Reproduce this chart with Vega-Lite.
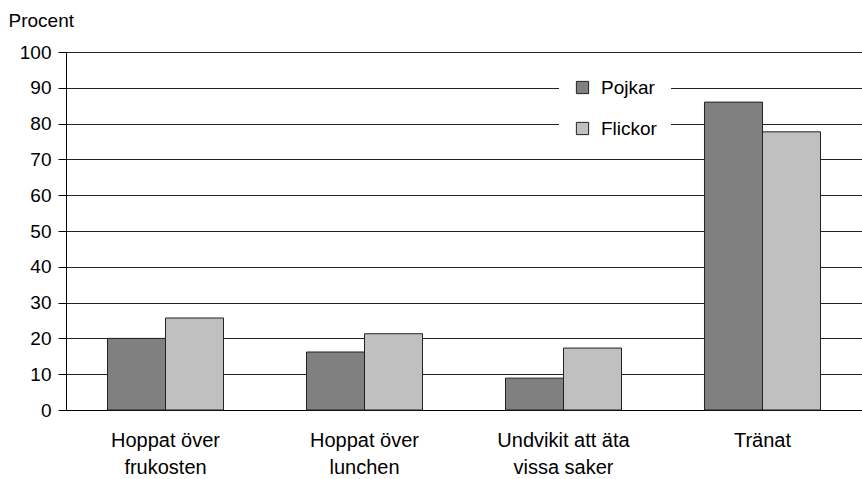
{
  "$schema": "https://vega.github.io/schema/vega-lite/v6.json",
  "width": 796,
  "height": 358,
  "autosize": {"type": "none"},
  "padding": {"left": 66, "top": 52, "right": 0, "bottom": 69},
  "background": "white",
  "config": {
    "view": {"stroke": null},
    "font": "Liberation Sans",
    "axis": {"labelFont": "Liberation Sans", "titleFont": "Liberation Sans", "labelColor": "black", "titleColor": "black"}
  },
  "data": {
    "values": [
      {"kategori": "Hoppat över frukosten", "kön": "Pojkar", "procent": 20},
      {"kategori": "Hoppat över frukosten", "kön": "Flickor", "procent": 25.7},
      {"kategori": "Hoppat över lunchen", "kön": "Pojkar", "procent": 16.2},
      {"kategori": "Hoppat över lunchen", "kön": "Flickor", "procent": 21.3},
      {"kategori": "Undvikit att äta vissa saker", "kön": "Pojkar", "procent": 8.9},
      {"kategori": "Undvikit att äta vissa saker", "kön": "Flickor", "procent": 17.3},
      {"kategori": "Tränat", "kön": "Pojkar", "procent": 86},
      {"kategori": "Tränat", "kön": "Flickor", "procent": 77.7}
    ]
  },
  "mark": {"type": "bar", "stroke": "#222", "strokeWidth": 1},
  "encoding": {
    "x": {
      "field": "kategori",
      "type": "nominal",
      "sort": null,
      "scale": {"paddingInner": 0.417, "paddingOuter": 0.2085},
      "axis": {
        "title": null,
        "labelAngle": 0,
        "labelFontSize": 20,
        "labelPadding": 20,
        "labelLineHeight": 27,
        "labelBaseline": "top",
        "ticks": false,
        "domainColor": "black",
        "labelExpr": "datum.label == 'Hoppat över frukosten' ? ['Hoppat över', 'frukosten'] : datum.label == 'Hoppat över lunchen' ? ['Hoppat över', 'lunchen'] : datum.label == 'Undvikit att äta vissa saker' ? ['Undvikit att äta', 'vissa saker'] : datum.label"
      }
    },
    "xOffset": {"field": "kön", "type": "nominal", "sort": ["Pojkar", "Flickor"], "scale": {"paddingInner": 0, "paddingOuter": 0}},
    "y": {
      "field": "procent",
      "type": "quantitative",
      "scale": {"domain": [0, 100], "nice": false},
      "axis": {
        "values": [0, 10, 20, 30, 40, 50, 60, 70, 80, 90, 100],
        "title": "Procent",
        "titleAngle": 0,
        "titleAlign": "left",
        "titleBaseline": "alphabetic",
        "titleX": -58,
        "titleY": -26,
        "titleFontSize": 19,
        "titleFontWeight": "normal",
        "labelFontSize": 19,
        "labelPadding": 7,
        "tickSize": 8,
        "tickColor": "black",
        "domainColor": "black",
        "grid": true,
        "gridColor": "#222",
        "gridWidth": 1
      }
    },
    "fill": {
      "field": "kön",
      "type": "nominal",
      "sort": ["Pojkar", "Flickor"],
      "scale": {"domain": ["Pojkar", "Flickor"], "range": ["#808080", "#c0c0c0"]},
      "legend": {
        "title": null,
        "orient": "none",
        "legendX": 493,
        "legendY": 12,
        "padding": 14,
        "fillColor": "white",
        "symbolType": "square",
        "symbolSize": 150,
        "symbolStrokeColor": "#222",
        "symbolStrokeWidth": 1,
        "labelFontSize": 19,
        "labelFont": "Liberation Sans",
        "labelColor": "black",
        "labelOffset": 9,
        "rowPadding": 21
      }
    }
  }
}
